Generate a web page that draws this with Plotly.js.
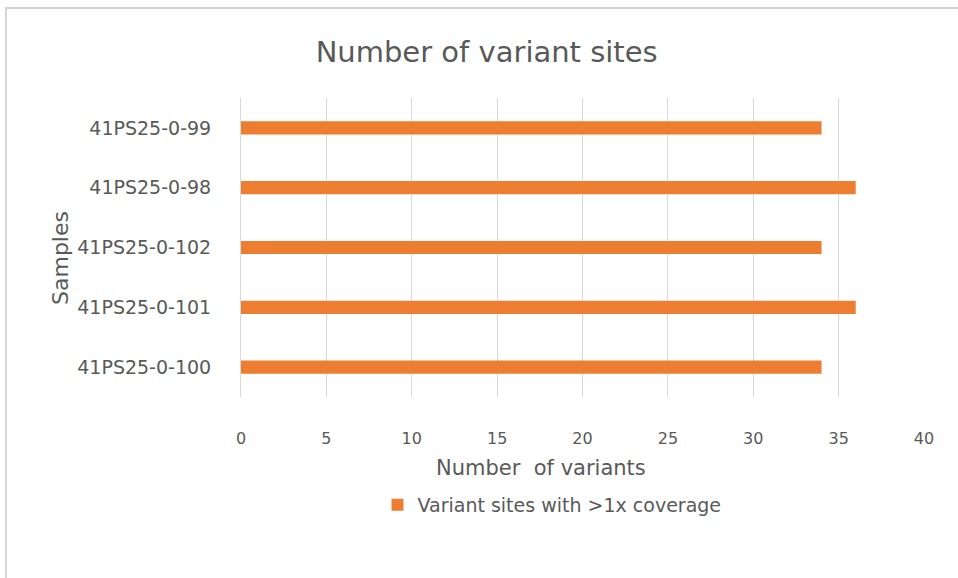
<!DOCTYPE html>
<html>
<head>
<meta charset="utf-8">
<script src="https://cdn.plot.ly/plotly-3.0.1.min.js"></script>
<style>
  html, body { margin: 0; padding: 0; background: #fff; overflow: hidden; }
  #wrap { position: absolute; left: 0; top: 0; width: 958px; height: 578px; }
  #frame { position: absolute; left: 5px; top: 7px; width: 1000px; height: 1000px;
           border-left: 2px solid #d6d6d6; border-top: 2px solid #d6d6d6; pointer-events: none; }
  #chart { position: absolute; left: 0; top: 0; width: 958px; height: 578px; }
</style>
</head>
<body>
<div id="wrap">
  <div id="chart"></div>
  <div id="frame"></div>
</div>
<script>
const samples = ["41PS25-0-100", "41PS25-0-101", "41PS25-0-102", "41PS25-0-98", "41PS25-0-99"];
const variantSites = [34, 36, 34, 36, 34];
const seriesName = "Variant sites with >1x coverage";
const xTicks = [0, 5, 10, 15, 20, 25, 30, 35, 40];
const xAxisTitle = "Number&nbsp; of variants";
const yAxisTitle = "Samples";
const chartTitle = "Number of variant sites";

const FONT = "DejaVu Sans, sans-serif";
const GREY = "#595959";

const trace = {
  type: "bar",
  orientation: "h",
  y: samples,
  x: variantSites,
  name: seriesName,
  marker: { color: "#ED7D31" },
  width: 0.22,
  hoverinfo: "x+y"
};

const layout = {
  width: 958,
  height: 578,
  paper_bgcolor: "#ffffff",
  plot_bgcolor: "#ffffff",
  margin: { l: 241, r: 34, t: 98, b: 181 },
  font: { family: FONT, color: GREY },
  title: {
    text: chartTitle,
    font: { family: FONT, size: 29, color: GREY },
    x: 0.508, xref: "container", xanchor: "center",
    y: 1 - 52 / 578, yref: "container", yanchor: "middle"
  },
  xaxis: {
    range: [0, 40],
    tickvals: xTicks,
    ticktext: xTicks.map(String),
    showgrid: true,
    gridcolor: "#d9d9d9",
    gridwidth: 1,
    zeroline: false,
    showline: false,
    ticks: "",
    ticklabelstandoff: 30,
    tickfont: { family: FONT, size: 16, color: GREY },
    fixedrange: true
  },
  yaxis: {
    type: "category",
    categoryorder: "array",
    categoryarray: samples,
    showgrid: false,
    zeroline: false,
    showline: true,
    linecolor: "#d9d9d9",
    linewidth: 1,
    ticks: "",
    ticklabelstandoff: 25,
    tickfont: { family: FONT, size: 19, color: GREY },
    fixedrange: true
  },
  annotations: [{
    text: xAxisTitle,
    xref: "paper", yref: "paper",
    x: (541 - 241) / 683, y: -(468 - 397) / 299,
    xanchor: "center", yanchor: "middle",
    showarrow: false,
    font: { family: FONT, size: 21, color: GREY }
  }, {
    text: yAxisTitle,
    xref: "paper", yref: "paper",
    x: (60 - 241) / 683, y: (397 - 258) / 299,
    xanchor: "center", yanchor: "middle",
    textangle: -90,
    showarrow: false,
    font: { family: FONT, size: 22, color: GREY }
  }],
  showlegend: true,
  legend: {
    orientation: "h",
    x: (552 - 241) / 683, xanchor: "center",
    y: -(505 - 397) / 299, yanchor: "middle",
    font: { family: FONT, size: 19, color: GREY },
    bgcolor: "rgba(0,0,0,0)"
  },
  bargap: 0.78
};

Plotly.newPlot("chart", [trace], layout, { displayModeBar: false, staticPlot: true });
</script>
</body>
</html>
